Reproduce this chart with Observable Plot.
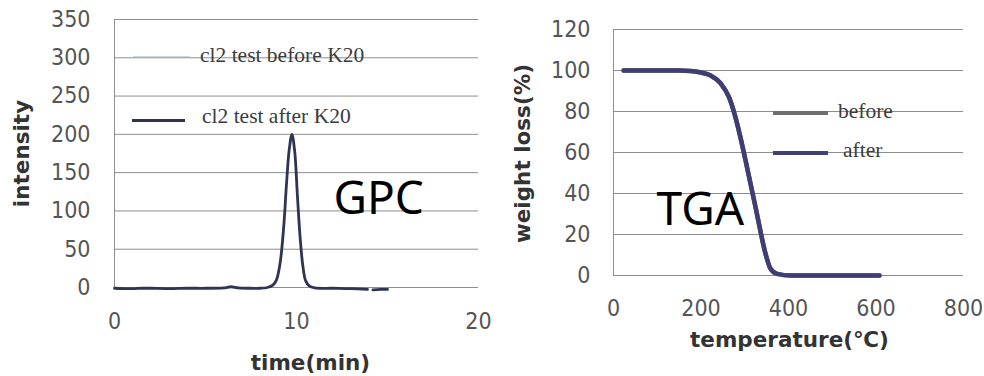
<!DOCTYPE html>
<html>
<head>
<meta charset="utf-8">
<script src="https://cdn.jsdelivr.net/npm/d3@7"></script>
<script src="https://cdn.jsdelivr.net/npm/@observablehq/plot@0.6"></script>
<style>
  html, body { margin: 0; padding: 0; background: #fff; }
  #wrap { position: relative; width: 984px; height: 376px; overflow: hidden; background: #fff; }
  #wrap svg { position: absolute; top: 0; overflow: visible; }
  .sw { position: absolute; height: 0; }
  .lt { position: absolute; font-family: "Liberation Serif", "DejaVu Serif", serif; font-size: 21.5px; color: #3c3c3c; line-height: 1; white-space: nowrap; transform: translateY(-55%); }
</style>
</head>
<body>
<div id="wrap"></div>
<script>
// ---- GPC data ----
const gpcTime = [0, 0.5, 1, 1.5, 2, 3, 4, 5, 6, 6.4, 6.8, 7.5, 8, 8.4, 8.7, 8.9, 9.1, 9.3, 9.45, 9.6, 9.75, 9.9, 10.05, 10.2, 10.35, 10.5, 10.7, 11, 12, 13, 13.9, 14.05, 14.2, 14.6, 15];
const gpcAfter = [-1, -1.5, -1.5, -1, -1, -1.5, -1, -1, -0.5, 1, -0.5, -1, -1, 0, 3, 10, 32, 80, 135, 180, 200, 178, 120, 65, 28, 9, 2, -0.5, -1, -1.5, -2.5, null, -3, -2.5, -2.5];
const gpcXTicks = [0, 10, 20];
const gpcYTicks = [0, 50, 100, 150, 200, 250, 300, 350];
const gpcSeries = ["cl2 test before K20", "cl2 test after K20"];

// ---- TGA data ----
const tgaTemp = [23, 60, 100, 150, 176, 200, 222, 245, 264, 279, 290, 302, 313, 325, 336, 347, 359, 374, 405, 500, 608];
const tgaAfter = [100, 100, 100, 100, 99.8, 99, 97.6, 93.7, 87, 77, 67.5, 56, 45, 33, 21.5, 11, 3.3, 0.8, 0, 0, 0];
const tgaBefore = [100, 100, 100, 100, 99.8, 99, 97.6, 93.7, 87, 77, 67.5, 56, 45, 33, 21.5, 11, 3.3, 0.8, 0, 0, 0];
const tgaXTicks = [0, 200, 400, 600, 800];
const tgaYTicks = [0, 20, 40, 60, 80, 100, 120];
const tgaSeries = ["before", "after"];

const gpc = gpcTime.map((t, i) => ({t, v: gpcAfter[i]}));
const tgaA = tgaTemp.map((t, i) => ({t, v: tgaAfter[i]}));
const tgaB = tgaTemp.map((t, i) => ({t, v: tgaBefore[i]}));

const tickFont = '"DejaVu Sans Condensed", "DejaVu Sans", sans-serif';
const titleFont = '"DejaVu Sans", sans-serif';
const annFont = '"Noto Sans", "Open Sans", sans-serif';
const gridColor = "#8e8e8e";
const tickColor = "#555";

const left = Plot.plot({
  width: 490, height: 376,
  marginLeft: 114, marginRight: 12, marginTop: 19, marginBottom: 89,
  x: {domain: [0, 20], axis: null},
  y: {domain: [0, 350], axis: null},
  style: {background: "transparent", overflow: "visible"},
  marks: [
    Plot.ruleY(gpcYTicks, {stroke: gridColor, strokeWidth: 1}),
    Plot.ruleX([0], {stroke: gridColor, strokeWidth: 1}),
    Plot.line(gpc, {x: "t", y: "v", stroke: "#2f3455", strokeWidth: 2.8, curve: "catmull-rom"}),
    Plot.text(gpcYTicks, {y: d => d, text: d => String(d), frameAnchor: "left", dx: -24, textAnchor: "end", lineAnchor: "middle", fontFamily: tickFont, fontSize: 23, fill: tickColor}),
    Plot.text(gpcXTicks, {x: d => d, text: d => String(d), frameAnchor: "bottom", dy: 34, textAnchor: "middle", lineAnchor: "middle", fontFamily: tickFont, fontSize: 23, fill: tickColor}),
    Plot.text(["intensity"], {text: d => d, frameAnchor: "left", dx: -92, rotate: -90, textAnchor: "middle", lineAnchor: "middle", fontFamily: titleFont, fontWeight: "bold", fontSize: 21.5, fill: "#333"}),
    Plot.text(["time(min)"], {text: d => d, frameAnchor: "bottom", dx: 14, dy: 76, textAnchor: "middle", lineAnchor: "middle", fontFamily: titleFont, fontWeight: "bold", fontSize: 21.5, fill: "#333"}),
    Plot.text(["GPC"], {text: d => d, frameAnchor: "top-left", dx: 219, dy: 180, textAnchor: "start", lineAnchor: "middle", fontFamily: annFont, fontSize: 46, fill: "#000"})
  ]
});
left.style.left = "0px";

const right = Plot.plot({
  width: 494, height: 376,
  marginLeft: 123, marginRight: 21, marginTop: 29, marginBottom: 101,
  x: {domain: [0, 800], axis: null},
  y: {domain: [0, 120], axis: null},
  style: {background: "transparent", overflow: "visible"},
  marks: [
    Plot.ruleY(tgaYTicks, {stroke: gridColor, strokeWidth: 1}),
    Plot.ruleX([0], {stroke: gridColor, strokeWidth: 1}),
    Plot.line(tgaB, {x: "t", y: "v", stroke: "#707070", strokeWidth: 4.5, curve: "monotone-x"}),
    Plot.line(tgaA, {x: "t", y: "v", stroke: "#3e3e75", strokeWidth: 4.5, curve: "monotone-x"}),
    Plot.text(tgaYTicks, {y: d => d, text: d => String(d), frameAnchor: "left", dx: -23, textAnchor: "end", lineAnchor: "middle", fontFamily: tickFont, fontSize: 23, fill: tickColor}),
    Plot.text(tgaXTicks, {x: d => d, text: d => String(d), frameAnchor: "bottom", dy: 33, textAnchor: "middle", lineAnchor: "middle", fontFamily: tickFont, fontSize: 23, fill: tickColor}),
    Plot.text(["weight loss(%)"], {text: d => d, frameAnchor: "left", dx: -90, dy: 1, rotate: -90, textAnchor: "middle", lineAnchor: "middle", fontFamily: titleFont, fontWeight: "bold", fontSize: 21.5, fill: "#333"}),
    Plot.text(["temperature(℃)"], {text: d => d, frameAnchor: "bottom", dx: 1, dy: 65, textAnchor: "middle", lineAnchor: "middle", fontFamily: titleFont, fontWeight: "bold", fontSize: 21.5, fill: "#333"}),
    Plot.text(["TGA"], {text: d => d, frameAnchor: "top-left", dx: 43, dy: 181, textAnchor: "start", lineAnchor: "middle", fontFamily: annFont, fontSize: 46, fill: "#000"})
  ]
});
right.style.left = "490px";

const wrap = document.getElementById("wrap");
wrap.appendChild(left);
wrap.appendChild(right);

// ---- legends (HTML overlay) ----
function legendItem(x1, x2, y, color, width, label, tx, ty) {
  const sw = document.createElement("div");
  sw.className = "sw";
  sw.style.left = x1 + "px";
  sw.style.width = (x2 - x1) + "px";
  sw.style.top = (y - width / 2) + "px";
  sw.style.borderTop = width + "px solid " + color;
  wrap.appendChild(sw);
  const t = document.createElement("div");
  t.className = "lt";
  t.style.left = tx + "px";
  t.style.top = ty + "px";
  t.textContent = label;
  wrap.appendChild(t);
}
legendItem(133, 190, 57, "#c9d6de", 1.5, gpcSeries[0], 200, 57);
legendItem(132, 185, 120, "#2f3350", 3, gpcSeries[1], 202, 118);
legendItem(773, 828, 113, "#6e6e6e", 4, tgaSeries[0], 838, 113);
legendItem(773, 828, 153, "#404074", 4, tgaSeries[1], 843, 152);
</script>
</body>
</html>
